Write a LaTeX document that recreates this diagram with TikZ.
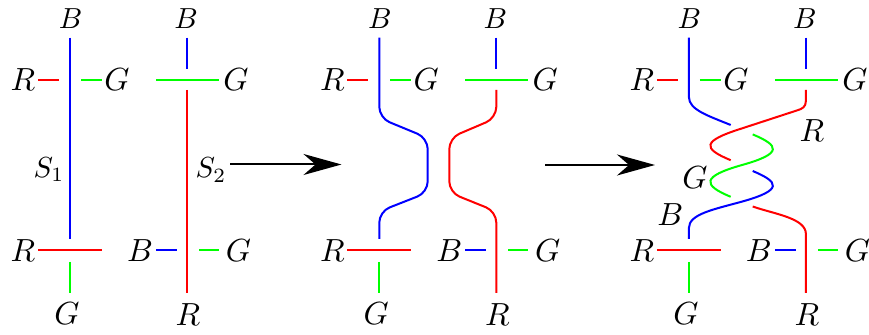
\documentclass[tikz,border=0pt]{standalone}
\usetikzlibrary{arrows.meta}
\begin{document}
\begin{tikzpicture}[x=0.5pt,y=-0.5pt,>={Stealth[length=19pt,width=10.5pt,inset=6pt]}]
  \tikzset{lbl/.style={inner sep=0pt,scale=1.6}, slbl/.style={inner sep=0pt,scale=1.45},
    str/.style={line width=1pt}}
  \useasboundingbox (0,0) rectangle (869,335);
  % labels and short ends, the same in all three pictures
  \foreach \p/\dx in {1/0,2/309.3,3/618.9}{
    \begin{scope}[shift={(\dx,0)}]
      \node[slbl] (tbl\p) at (70.5,19) {$B$};
      \node[slbl] (tbr\p) at (186,18.5) {$B$};
      \node[lbl] (trl\p) at (23,80) {$R$};
      \node[lbl] (tgl\p) at (117,80) {$G$};
      \node[lbl] (tgr\p) at (236,80) {$G$};
      \node[lbl] (brl\p) at (23,250.5) {$R$};
      \node[lbl] (bgl\p) at (67,314) {$G$};
      \node[lbl] (bbm\p) at (140,250.5) {$B$};
      \node[lbl] (bgr\p) at (238.5,251) {$G$};
      \node[lbl] (brr\p) at (188,314.5) {$R$};
      \draw[str,red] (38,80) -- (59,80);
      \draw[str,green] (81,80) -- (102,80);
      \draw[str,blue] (187,37.7) -- (187,69);
      \draw[str,green] (156,80) -- (219,80);
      \draw[str,red] (38,250) -- (102,250);
      \draw[str,green] (70,262) -- (70,293);
      \draw[str,blue] (156,250) -- (177,250);
      \draw[str,green] (199,250) -- (219,250);
    \end{scope}
  }
  % S1 and S2
  \draw[str,blue] (70,37.7) -- (70,239);
  \draw[str,red] (187,90) -- (187,293);
  \node[slbl,anchor=base] (s1) at (49,177.5) {$S_1$};
  \node[slbl,anchor=base] (s2) at (211,178) {$S_2$};
  % pulled together
  \begin{scope}[shift={(309.3,0)}]
    \draw[str,blue,rounded corners=5.5pt] (70,37.7) -- (70,118) -- (118.4,138) -- (118.4,192.5) -- (70,211.5) -- (70,239);
    \draw[str,red,rounded corners=5.5pt] (187,90) -- (187,118) -- (140,138) -- (140,192.5) -- (187,211.5) -- (187,293);
  \end{scope}
  % twisted
  \begin{scope}[shift={(618.9,0)}]
    \draw[str,blue] (70,37.7) -- (70,97) .. controls (70,110) and (90,116) .. (111.8,125);
    \draw[str,red] (187,90) -- (187,101) .. controls (187,107) and (183,109) .. (178.5,110.3) -- (122.8,128.5) .. controls (83,141) and (83,148.3) .. (111.8,160.2);
    \draw[str,green] (133.8,134.4) .. controls (160,145.4) and (165,153.4) .. (122.8,165.1) .. controls (83,176.4) and (83,184.9) .. (111.8,196.8);
    \draw[str,blue] (133.8,171) .. controls (160,182) and (165,190) .. (122.8,201.7) .. controls (95,209.4) and (70,214) .. (70,228) -- (70,239);
    \draw[str,red] (133.8,206.5) .. controls (155,214) and (187,218) .. (187,234) -- (187,293);
    \node[lbl] (r3) at (193,131) {$R$};
    \node[lbl] (g3) at (76,177.5) {$G$};
    \node[lbl] (b3) at (51.4,214.2) {$B$};
  \end{scope}
  \coordinate (a1) at (230,164.5);
  \coordinate (a2) at (341.5,164.5);
  \coordinate (a3) at (545,165);
  \coordinate (a4) at (655,165);
  \draw[->,line width=1pt] (a1) -- (a2);
  \draw[->,line width=1pt] (a3) -- (a4);
\end{tikzpicture}
\end{document}
